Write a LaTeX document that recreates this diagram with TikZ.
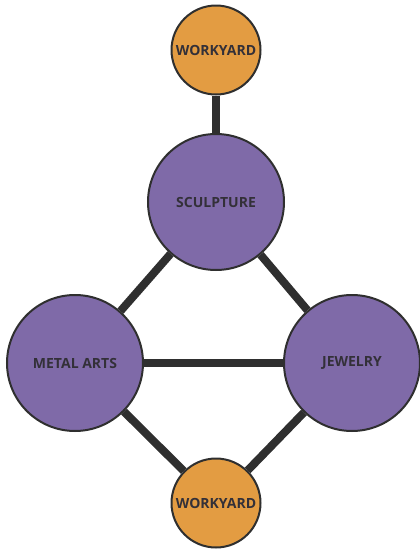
\documentclass[tikz,border=0pt]{standalone}
\usepackage{fontspec}
\setmainfont{Open Sans}
\usetikzlibrary{backgrounds}
\begin{document}
\begin{tikzpicture}[x=1pt,y=-1pt,
  hub/.style={circle,draw=linec,line width=2pt,fill=purp,inner sep=0pt,minimum size=136pt,font=\fontsize{14}{16}\selectfont\bfseries,text=textc},
  yard/.style={circle,draw=linec,line width=2pt,fill=orng,inner sep=0pt,minimum size=89pt,font=\fontsize{14}{16}\selectfont\bfseries,text=textc},
  link/.style={draw=linec,line width=8pt}]
\definecolor{purp}{HTML}{7F6AA8}
\definecolor{orng}{HTML}{E39C42}
\definecolor{linec}{HTML}{2F2F2F}
\definecolor{textc}{HTML}{333038}
\useasboundingbox (0,0) rectangle (420,552);
\node[yard] (wt) at (216,50) {WORKYARD};
\node[hub] (sc) at (216,202) {SCULPTURE};
\node[hub] (ma) at (75,363) {METAL ARTS};
\node[hub] (jw) at (352,363) {JEWELRY};
\node[yard] (wb) at (216,503) {WORKYARD};
\begin{scope}[on background layer]
\draw[link] (wt) -- (sc);
\draw[link] (sc) -- (ma);
\draw[link] (sc) -- (jw);
\draw[link] (ma) -- (jw);
\draw[link] (ma) -- (wb);
\draw[link] (jw) -- (wb);
\end{scope}
\end{tikzpicture}
\end{document}
